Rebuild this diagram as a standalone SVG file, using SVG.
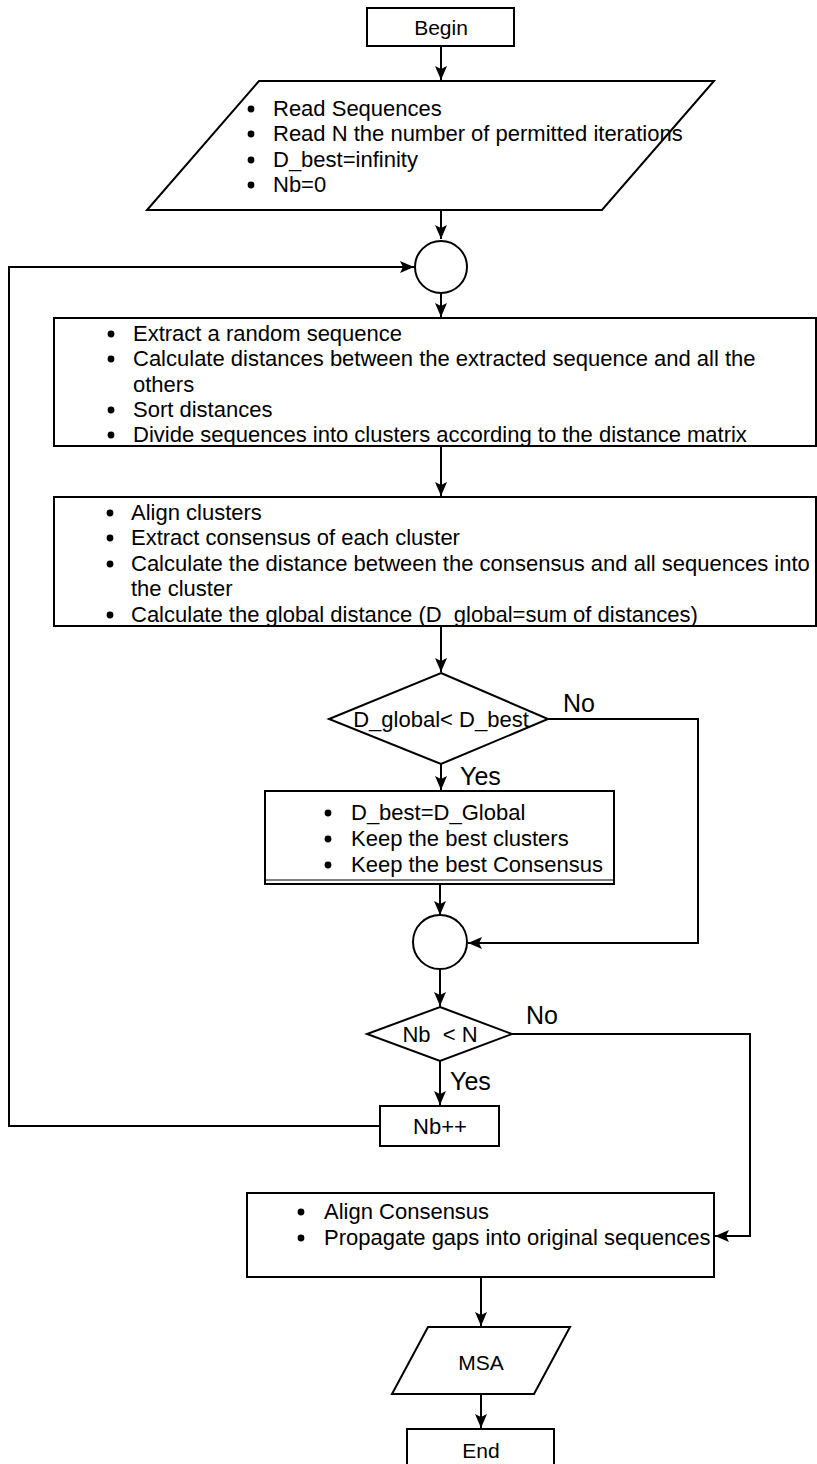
<svg xmlns="http://www.w3.org/2000/svg" width="817" height="1464" viewBox="0 0 817 1464">
<style>
.s{fill:#fff;stroke:#000;stroke-width:2}
.c{fill:none;stroke:#000;stroke-width:2}
.t{font-family:"Liberation Sans",Arial,sans-serif;font-size:22px;fill:#000}
.m{text-anchor:middle}
.l{font-family:"Liberation Sans",Arial,sans-serif;font-size:25px;fill:#000}
</style>
<defs>
<marker id="a" markerWidth="16" markerHeight="14" refX="15" refY="7" orient="auto" markerUnits="userSpaceOnUse">
<path d="M1,1 L15,7 L1,13 L4,7 z" fill="#000"/>
</marker>
<circle id="d" r="3.4" fill="#000"/>
</defs>
<rect width="817" height="1464" fill="#fff"/>
<g id="connectors">
<line class="c" x1="441" y1="46" x2="441" y2="80" marker-end="url(#a)"/>
<line class="c" x1="441" y1="210" x2="441" y2="239" marker-end="url(#a)"/>
<line class="c" x1="441" y1="293" x2="441" y2="317" marker-end="url(#a)"/>
<line class="c" x1="441" y1="446" x2="441" y2="496" marker-end="url(#a)"/>
<line class="c" x1="441" y1="626" x2="441" y2="672" marker-end="url(#a)"/>
<line class="c" x1="441" y1="764" x2="441" y2="790" marker-end="url(#a)"/>
<polyline class="c" points="548,719 698,719 698,943 468,943" marker-end="url(#a)"/>
<line class="c" x1="440" y1="884" x2="440" y2="915" marker-end="url(#a)"/>
<line class="c" x1="440" y1="969" x2="440" y2="1006" marker-end="url(#a)"/>
<line class="c" x1="440" y1="1061" x2="440" y2="1105" marker-end="url(#a)"/>
<polyline class="c" points="512,1034 750,1034 750,1236 715,1236" marker-end="url(#a)"/>
<polyline class="c" points="380,1126 9,1126 9,267 414,267" marker-end="url(#a)"/>
<line class="c" x1="481" y1="1277" x2="481" y2="1326" marker-end="url(#a)"/>
<line class="c" x1="481" y1="1394" x2="481" y2="1428" marker-end="url(#a)"/>
<text class="l" x="563" y="712">No</text>
<text class="l" x="460" y="785">Yes</text>
<text class="l" x="526" y="1024">No</text>
<text class="l" x="450" y="1090">Yes</text>
</g>
<g id="begin">
<rect class="s" x="367" y="8" width="147" height="38"/>
<text class="t m" x="441" y="35" style="font-size:21px">Begin</text>
</g>
<g id="input">
<polygon class="s" points="259,81 714,81 602,210 147,210"/>
<use href="#d" x="251" y="109"/>
<text class="t" x="273" y="116">Read Sequences</text>
<use href="#d" x="251" y="134"/>
<text class="t" x="273" y="141">Read N the number of permitted iterations</text>
<use href="#d" x="251" y="160"/>
<text class="t" x="273" y="167">D_best=infinity</text>
<use href="#d" x="251" y="185"/>
<text class="t" x="273" y="192">Nb=0</text>
</g>
<g id="join1">
<circle class="s" cx="441" cy="267" r="26"/>
</g>
<g id="extract">
<rect class="s" x="54" y="318" width="762" height="128"/>
<use href="#d" x="111" y="334"/>
<text class="t" x="133" y="341">Extract a random sequence</text>
<use href="#d" x="111" y="359"/>
<text class="t" x="133" y="366">Calculate distances between the extracted sequence and all the</text>
<text class="t" x="133" y="392">others</text>
<use href="#d" x="111" y="410"/>
<text class="t" x="133" y="417">Sort distances</text>
<use href="#d" x="111" y="435"/>
<text class="t" x="133" y="442">Divide sequences into clusters according to the distance matrix</text>
</g>
<g id="align">
<rect class="s" x="54" y="497" width="762" height="129"/>
<use href="#d" x="110" y="513"/>
<text class="t" x="131" y="520">Align clusters</text>
<use href="#d" x="110" y="538"/>
<text class="t" x="131" y="545">Extract consensus of each cluster</text>
<use href="#d" x="110" y="564"/>
<text class="t" x="131" y="571">Calculate the distance between the consensus and all sequences into</text>
<text class="t" x="131" y="596">the cluster</text>
<use href="#d" x="110" y="615"/>
<text class="t" x="131" y="622">Calculate the global distance (D_global=sum of distances)</text>
</g>
<g id="decision1">
<polygon class="s" points="441,673 548,719 441,764 329,719"/>
<text class="t m" x="441" y="727">D_global&lt; D_best</text>
</g>
<g id="keep">
<rect class="s" x="265" y="791" width="349" height="93"/>
<line x1="266" y1="880" x2="613" y2="880" stroke="#000" stroke-width="1"/>
<use href="#d" x="328" y="813"/>
<text class="t" x="351" y="820">D_best=D_Global</text>
<use href="#d" x="328" y="839"/>
<text class="t" x="351" y="846">Keep the best clusters</text>
<use href="#d" x="328" y="865"/>
<text class="t" x="351" y="872">Keep the best Consensus</text>
</g>
<g id="join2">
<circle class="s" cx="440" cy="942" r="27"/>
</g>
<g id="decision2">
<polygon class="s" points="440,1007 512,1034 440,1061 367,1034"/>
<text class="t m" x="440" y="1042" xml:space="preserve">Nb  &lt; N</text>
</g>
<g id="increment">
<rect class="s" x="380" y="1106" width="119" height="40"/>
<text class="t m" x="440" y="1134">Nb++</text>
</g>
<g id="final">
<rect class="s" x="247" y="1193" width="467" height="84"/>
<use href="#d" x="301" y="1212"/>
<text class="t" x="324" y="1219">Align Consensus</text>
<use href="#d" x="301" y="1238"/>
<text class="t" x="324" y="1245">Propagate gaps into original sequences</text>
</g>
<g id="msa">
<polygon class="s" points="428,1327 570,1327 534,1394 392,1394"/>
<text class="t m" x="481" y="1370" style="font-size:21px">MSA</text>
</g>
<g id="end">
<rect class="s" x="407" y="1429" width="147" height="40"/>
<text class="t m" x="481" y="1458" style="font-size:21px">End</text>
</g>
</svg>
